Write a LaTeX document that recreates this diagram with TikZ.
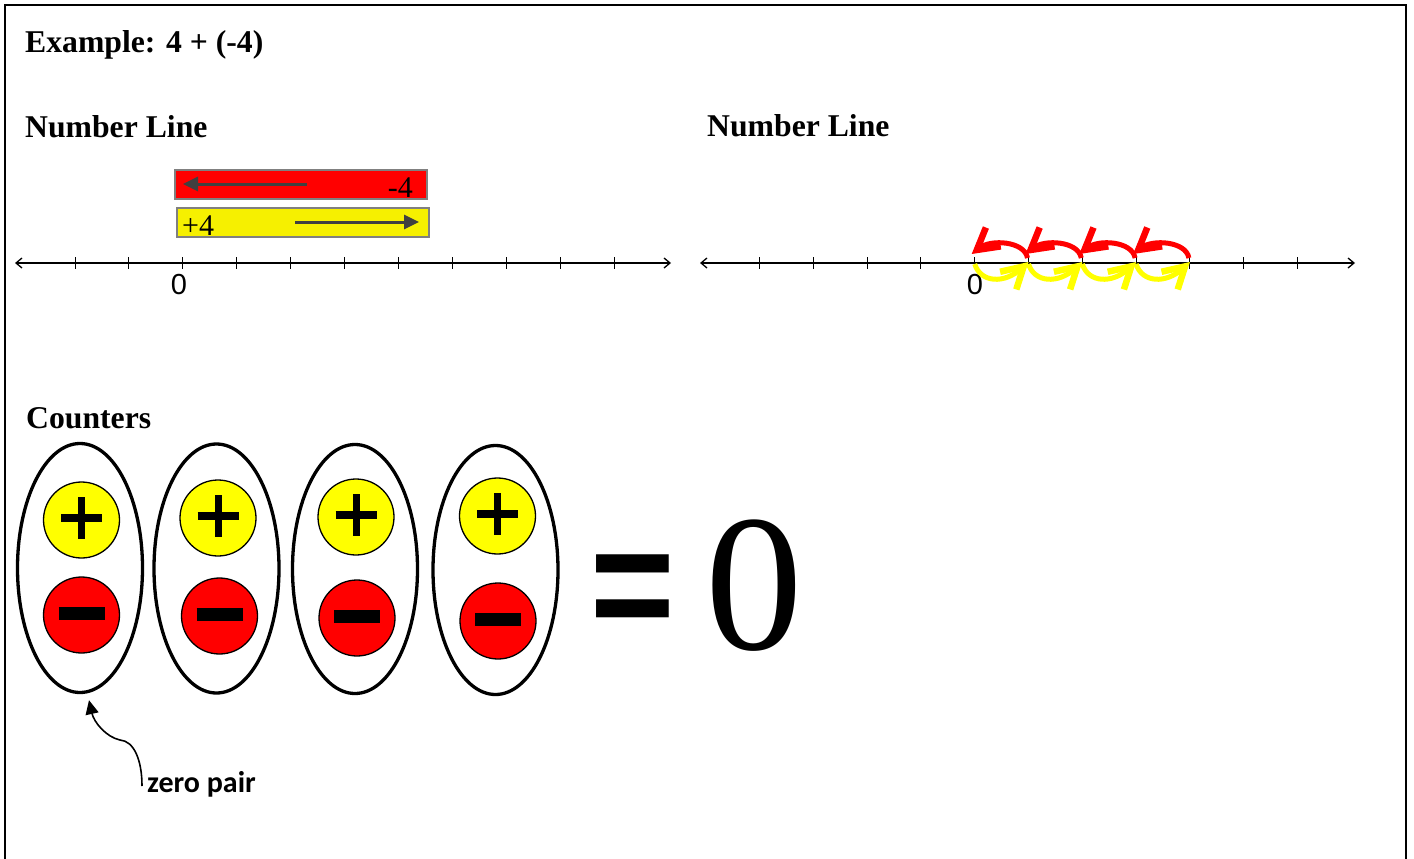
\documentclass[tikz,border=0pt]{standalone}
\usepackage{fontspec}
\setmainfont{Liberation Serif}
\newfontfamily\arialf{Liberation Sans}
\newfontfamily\calibrif{Carlito}
\usetikzlibrary{arrows.meta,shapes.geometric}
\definecolor{cred}{RGB}{255,0,0}
\definecolor{cyel}{RGB}{255,255,0}
\definecolor{byel}{RGB}{246,240,0}
\definecolor{darkgr}{RGB}{64,64,64}
\definecolor{boxgr}{RGB}{128,128,128}
\begin{document}
\begin{tikzpicture}[x=1pt,y=-1pt,
  title/.style={font=\fontsize{31.7}{36}\selectfont\bfseries, inner sep=0, anchor=base west},
  numline/.style={line width=1.3pt, {Straight Barb[length=6pt,width=10pt]}-{Straight Barb[length=6pt,width=10pt]}},
  tickmark/.style={line width=1pt},
  zerolbl/.style={font=\arialf\fontsize{29}{32}\selectfont, inner sep=0},
  boxlbl/.style={font=\fontsize{30}{34}\selectfont, inner sep=0},
  barbox/.style={draw=boxgr, line width=2pt, minimum width=252pt, minimum height=29pt, inner sep=0},
  boxarrow/.style={draw=darkgr, line width=3pt, -{Triangle[length=15pt,width=14pt]}},
  redarc/.style={draw=cred, line width=5pt, -{Straight Barb[length=21pt,width=24pt,line width'=6.5pt]}},
  yelarc/.style={draw=cyel, line width=5pt, -{Straight Barb[length=21pt,width=24pt,line width'=6.5pt]}},
  pair/.style={ellipse, draw=black, line width=3.3pt, minimum width=125pt, minimum height=249pt, inner sep=0},
  poscnt/.style={circle, draw=black, line width=1.3pt, fill=cyel, minimum size=76pt, inner sep=0},
  negcnt/.style={circle, draw=black, line width=1.3pt, fill=cred, minimum size=76pt, inner sep=0},
  zparrow/.style={line width=1.6pt, -{Triangle[length=14pt,width=13pt]}}
]
\useasboundingbox (0,0) rectangle (1414,859);
% frame
\coordinate (f1) at (5,860); \coordinate (f2) at (5,5);
\coordinate (f3) at (1406,5); \coordinate (f4) at (1406,860);
\draw[line width=2.5pt] (f1) -- (f2) -- (f3) -- (f4);

% titles
\node[title] (ttl) at (25,53) {Example: 4 + (-4)};
\node[title] (nlA) at (25,137) {Number Line};
\node[title] (nlB) at (707,136) {Number Line};
\node[title] (cnt) at (26,428) {Counters};

% ---- number line 1
\coordinate (a1) at (15,263); \coordinate (a2) at (671,263);
\draw[numline] (a1) -- (a2);
\foreach \i in {0,...,10} {
  \coordinate (u\i) at (75+53.9*\i,263);
  \draw[tickmark] ([shift={(0,-6)}]u\i) -- ([shift={(0,6)}]u\i);
}
\node[zerolbl] (z1) at (179,285) {0};
\node[barbox, fill=cred] (rb) at (301,184.5) {};
\node[barbox, fill=byel] (yb) at (302.5,222.5) {};
\node[boxlbl, anchor=base east] (m4) at (413,197) {-4};
\node[boxlbl, anchor=base west] (p4) at (182,235) {+4};
\coordinate (ra1) at (307,184); \coordinate (ra2) at (183,184);
\coordinate (ya1) at (295,222); \coordinate (ya2) at (419,222);
\draw[boxarrow] (ra1) -- (ra2);
\draw[boxarrow] (ya1) -- (ya2);

% ---- number line 2
\coordinate (b1) at (700,263); \coordinate (b2) at (1355,263);
\draw[numline] (b1) -- (b2);
\foreach \i in {0,...,10} {
  \coordinate (v\i) at (759.5+53.8*\i,263);
  \draw[tickmark] ([shift={(0,-6)}]v\i) -- ([shift={(0,6)}]v\i);
}
\node[zerolbl] (z2) at (975,285) {0};
\foreach \k [evaluate=\k as \kk using int(\k+1)] in {4,...,7} {
  \draw[yelarc] ([shift={(0,1)}]v\k) .. controls ([shift={(6,20)}]v\k) and ([shift={(-24,21)}]v\kk) .. ([shift={(0,-1)}]v\kk);
  \draw[redarc] ([shift={(-1,-5)}]v\kk) .. controls ([shift={(-4,-22)}]v\kk) and ([shift={(16,-24)}]v\k) .. ([shift={(-3,-9)}]v\k);
}

% ---- counters
\foreach \n/\ex/\ey/\px/\py/\qx/\qy in {1/80/568/81.5/520/81.5/615, 2/216.5/568.5/218/518/219.5/616, 3/355/569/356/517/357/618, 4/495.5/570/497.5/516/498/621} {
  \node[pair] (e\n) at (\ex,\ey) {};
  \node[poscnt] (p\n) at (\px,\py) {};
  \node[negcnt] (n\n) at (\qx,\qy) {};
  \draw[line width=7pt] ([shift={(0,-23)}]p\n.center) -- ([shift={(0,19)}]p\n.center);
  \draw[line width=8.5pt] ([shift={(-20.5,-2)}]p\n.center) -- ([shift={(20.5,-2)}]p\n.center);
  \draw[line width=13pt] ([shift={(-23,-2)}]n\n.center) -- ([shift={(23,-2)}]n\n.center);
}
\node[font=\arialf\bfseries\fontsize{145}{150}\selectfont, inner sep=0] (eq) at (633,598) {\scalebox{1}[1.15]{=}};
\node[font=\fontsize{195}{200}\selectfont, inner sep=0, anchor=base] (zero) at (754,649) {0};

% zero pair label
\node[font=\calibrif\bfseries\fontsize{30}{34}\selectfont, anchor=base west, inner sep=0] (zp) at (147,792) {zero pair};
\coordinate (zps) at (142,786);
\coordinate (zpm) at (120,740);
\draw[zparrow] (zps) .. controls ([shift={(0,-26)}]zps) and ([shift={(14,1)}]zpm) .. (zpm)
  .. controls ([shift={(-14,-3)}]zpm) and ([shift={(14,28)}]e1.south) .. ([shift={(9,6)}]e1.south);
\end{tikzpicture}
\end{document}
